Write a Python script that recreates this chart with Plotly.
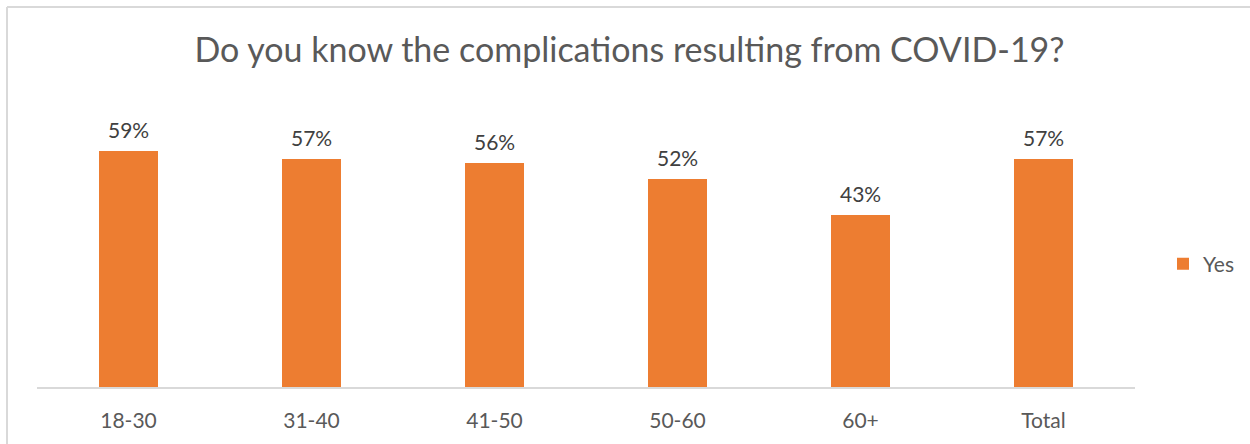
import plotly.graph_objects as go

categories = ["18-30", "31-40", "41-50", "50-60", "60+", "Total"]
yes_values = [59, 57, 56, 52, 43, 57]
series_name = "Yes"
title_text = "Do you know the complications resulting from COVID-19?"

W, H = 1250, 444
L, R, T, B = 37, 1135, 107, 387  # plot area in px

def px_x(px):
    return (px - L) / (R - L)

def px_y(py):
    return (B - py) / (B - T)

FONT = "Lato"
fig = go.Figure()
fig.add_trace(go.Bar(
    x=categories, y=yes_values, name=series_name,
    marker=dict(color="#ED7D31", line=dict(width=0)),
    width=0.32, showlegend=True,
))

# data labels placed through the axes from the data arrays
for c, v in zip(categories, yes_values):
    fig.add_annotation(x=c, y=v, xref="x", yref="y", text=f"{v}%",
                       showarrow=False, yanchor="bottom", yshift=7,
                       font=dict(family=FONT, size=21, color="#404040"))

fig.update_layout(
    width=W, height=H,
    margin=dict(l=L, r=W - R, t=T, b=H - B, pad=0, autoexpand=False),
    paper_bgcolor="white", plot_bgcolor="white",
    title=dict(text=title_text, x=629.5 / W, xanchor="center", xref="container",
               y=1 - 50 / H, yanchor="middle", yref="container",
               font=dict(family=FONT, size=34, color="#595959")),
    xaxis=dict(showline=True, linecolor="#D9D9D9", linewidth=2, automargin=False,
               showgrid=False, ticks="", ticklabelstandoff=14,
               tickfont=dict(family=FONT, size=21, color="#595959")),
    yaxis=dict(range=[0, 70], visible=False, showgrid=False, automargin=False),
    showlegend=True,
    legend=dict(x=px_x(1163), y=px_y(264), xanchor="left", yanchor="middle",
                font=dict(family=FONT, size=21, color="#595959"),
                bgcolor="rgba(0,0,0,0)"),
    bargap=0,
)

# outer border (top and left visible in the cropped reference)
fig.add_shape(type="line", xref="paper", yref="paper",
              x0=px_x(7), x1=px_x(1260), y0=px_y(7), y1=px_y(7),
              line=dict(color="#D9D9D9", width=2))
fig.add_shape(type="line", xref="paper", yref="paper",
              x0=px_x(7), x1=px_x(7), y0=px_y(7), y1=px_y(460),
              line=dict(color="#D9D9D9", width=2))

fig.write_html("out.html", config={"displayModeBar": False},
               post_script="document.body.style.margin='0';document.body.style.overflow='hidden';")
